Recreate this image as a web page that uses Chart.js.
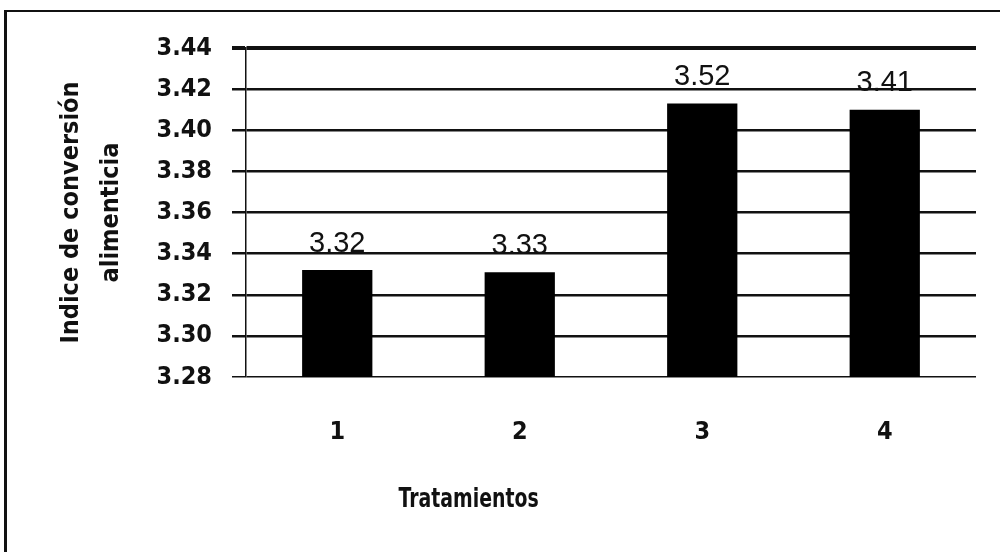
<!DOCTYPE html>
<html>
<head>
<meta charset="utf-8">
<script src="https://cdn.jsdelivr.net/npm/chart.js@4.4.1/dist/chart.umd.min.js"></script>
<style>
  html, body { margin: 0; padding: 0; background: #fff; }
  #box {
    position: absolute; left: 4px; top: 10px;
    width: 996px; height: 542px;
    border-top: 2px solid #111; border-left: 3px solid #111;
  }
</style>
</head>
<body>
<div id="box"><canvas id="grafico"></canvas></div>
<script>
// datos del gráfico
const tratamientos = ["1", "2", "3", "4"];
const indiceConversion = [3.332, 3.331, 3.413, 3.410];
const etiquetasValor = ["3.32", "3.33", "3.52", "3.41"];
const ejeYMin = 3.28;
const ejeYMax = 3.44;
const ejeYPaso = 0.02;

const FUENTE = '"Liberation Sans Narrow", "DejaVu Sans Condensed", "Liberation Sans", sans-serif';

// etiquetas encima de las barras y título del eje X
const etiquetasPlugin = {
    id: 'etiquetas',
    afterDatasetsDraw(chart) {
        const ctx = chart.ctx;
        const meta = chart.getDatasetMeta(0);
        ctx.save();
        ctx.fillStyle = '#111';
        ctx.font = '29px "Liberation Sans", Arial, sans-serif';
        ctx.textAlign = 'center';
        ctx.textBaseline = 'bottom';
        meta.data.forEach((bar, i) => {
            ctx.fillText(etiquetasValor[i], bar.x, bar.y - 12);
        });
        // el título del eje X se ve algo estirado en vertical en el original
        const area = chart.chartArea;
        ctx.translate(area.left + area.width * 0.305, area.bottom + 123);
        ctx.scale(1, 1.3);
        ctx.font = 'bold 21px ' + FUENTE;
        ctx.textBaseline = 'middle';
        ctx.fillText('Tratamientos', 0, 0);
        ctx.restore();
    }
};

function dibujar() {
    new Chart(document.getElementById("grafico"), {
        type: 'bar',
        data: {
            labels: tratamientos,
            datasets: [{
                data: indiceConversion,
                backgroundColor: '#000',
                barPercentage: 0.385,
                categoryPercentage: 1
            }]
        },
        options: {
            responsive: true,
            maintainAspectRatio: false,
            animation: false,
            layout: { padding: { left: 0, right: 27, top: 36, bottom: 0 } },
            scales: {
                x: {
                    grid: { display: false, drawTicks: false },
                    border: { display: false },
                    ticks: { color: '#111', padding: 40, font: { family: FUENTE, size: 25, weight: 'bold' } },
                    afterFit: s => { s.height = 177; }
                },
                y: {
                    min: ejeYMin,
                    max: ejeYMax,
                    ticks: {
                        stepSize: ejeYPaso,
                        color: '#111',
                        padding: 20,
                        font: { family: FUENTE, size: 25, weight: 'bold' },
                        callback: v => v.toFixed(2)
                    },
                    grid: {
                        color: '#111',
                        tickLength: 14,
                        lineWidth: c => c.index === 8 ? 4 : (c.index === 0 ? 1.5 : 2.5)
                    },
                    border: { display: true, color: '#111', width: 1.5 },
                    title: {
                        display: true,
                        text: ['Indice de conversión', 'alimenticia'],
                        color: '#111',
                        padding: { top: 44 },
                        font: { family: FUENTE, size: 25, weight: 'bold', lineHeight: 1.6 }
                    },
                    afterFit: s => { s.width = 239; }
                }
            },
            plugins: {
                legend: { display: false },
                tooltip: { enabled: false }
            }
        },
        plugins: [etiquetasPlugin]
    });
}

// esperar a que las fuentes locales estén listas
document.addEventListener("DOMContentLoaded", function () {
    Promise.all([
        document.fonts.load('bold 25px "Liberation Sans Narrow"'),
        document.fonts.load('29px "Liberation Sans"')
    ]).then(dibujar, dibujar);
});
</script>
</body>
</html>
